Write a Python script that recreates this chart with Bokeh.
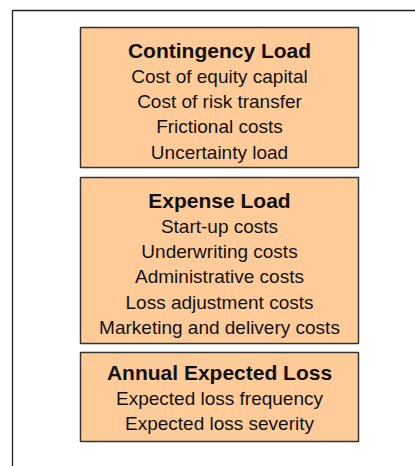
from bokeh.plotting import figure
from bokeh.models import Range1d
from bokeh.core.properties import value
from bokeh.embed import file_html
from bokeh.resources import INLINE

# ---- content ----
titles = ["Contingency Load", "Expense Load", "Annual Expected Loss"]
contingency_items = ["Cost of equity capital", "Cost of risk transfer",
                     "Frictional costs", "Uncertainty load"]
expense_items = ["Start-up costs", "Underwriting costs", "Administrative costs",
                 "Loss adjustment costs", "Marketing and delivery costs"]
loss_items = ["Expected loss frequency", "Expected loss severity"]
items = [contingency_items, expense_items, loss_items]

# ---- layout (pixel-like data coordinates) ----
W, H = 415, 466
box_left, box_right = 80, 358
box_tops = [27, 177, 352]
box_bottoms = [167, 343, 441]
title_offsets = [23, 23, 20]
line_step = 25.2
title_gap = 26

p = figure(width=W, height=H, output_backend="svg", toolbar_location=None,
           x_range=Range1d(0, W), y_range=Range1d(H, 0),
           min_border=0, outline_line_color=None, background_fill_color="white",
           border_fill_color="white")
p.axis.visible = False
p.grid.visible = False

# outer frame (top and left edges)
p.line(x=[12, 12, W + 5], y=[H + 5, 10, 10], line_color="#222222", line_width=1.3)

cx = (box_left + box_right) / 2
for i, t in enumerate(titles):
    p.quad(left=box_left, right=box_right, top=box_tops[i], bottom=box_bottoms[i],
           fill_color="#FFCC99", line_color="#333333", line_width=1.5)
    ty = box_tops[i] + title_offsets[i]
    p.text(x=[cx], y=[ty], text=[t], text_align="center", text_baseline="alphabetic",
           text_font=value("Liberation Sans"), text_font_style="bold",
           text_font_size="21px", text_color="#111111")
    ys = [ty + title_gap + k * line_step for k in range(len(items[i]))]
    p.text(x=[cx] * len(items[i]), y=ys, text=items[i], text_align="center",
           text_baseline="alphabetic", text_font=value("Liberation Sans"),
           text_font_size="19px", text_color="#111111")

open("out.html", "w").write(file_html(p, INLINE))
